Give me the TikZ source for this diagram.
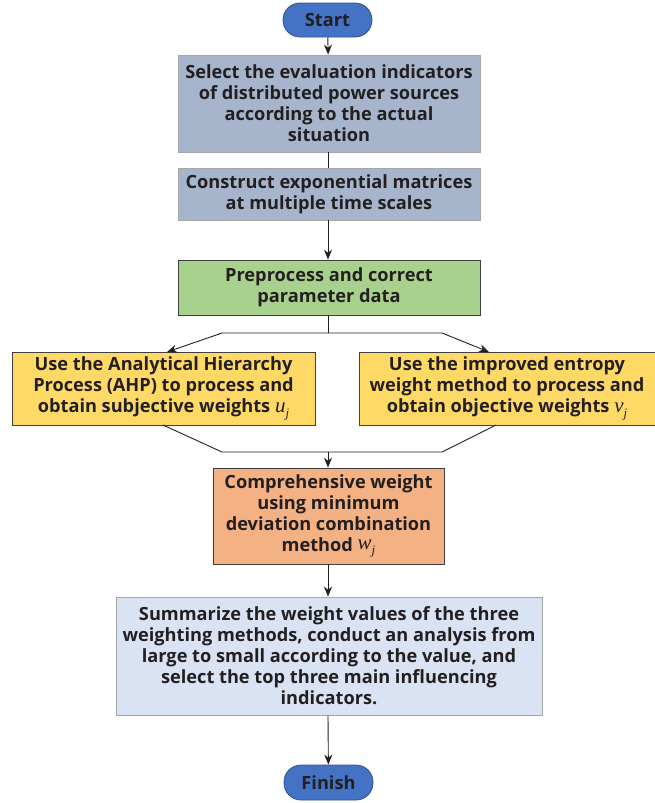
\documentclass[tikz,border=0pt]{standalone}
\usepackage{fontspec}
\setmainfont{Open Sans}
\newfontfamily\mathser{Liberation Serif}
\usetikzlibrary{arrows.meta}
\definecolor{txt}{HTML}{231F20}
\definecolor{cgray}{HTML}{A6B5CC}
\definecolor{cgreen}{HTML}{A9D18E}
\definecolor{cyel}{HTML}{FFD966}
\definecolor{corg}{HTML}{F4B183}
\definecolor{clblue}{HTML}{DAE3F3}
\definecolor{cterm}{HTML}{4472C4}
\definecolor{ctermb}{HTML}{2F528F}
\definecolor{cline}{HTML}{404040}
\newcommand{\mv}[2]{{\mathser\mdseries\itshape\fontsize{21}{21}\selectfont #1\raisebox{-5pt}{\fontsize{13}{13}\selectfont #2}}}
\begin{document}
\begin{tikzpicture}[x=1pt,y=-1pt,
  every node/.style={font=\bfseries\fontsize{18.2}{21}\selectfont, text=txt, align=center, inner sep=0pt},
  boxs/.style={draw=cline, line width=0.8pt, rectangle},
  conn/.style={draw=txt, line width=0.9pt},
  arr/.style={conn, -{Stealth[length=10pt,width=8pt]}}
]
\useasboundingbox (0,0) rectangle (655,803);
\node[draw=ctermb, fill=cterm, line width=0.8pt, rounded corners=17pt, minimum width=89pt, minimum height=34pt] (start) at (327.5,20) {Start};
\node[boxs, draw=gray!70, fill=cgray, minimum width=302pt, minimum height=97pt] (b1) at (329,103.5) {Select the evaluation indicators\\of distributed power sources\\according to the actual\\situation};
\node[boxs, draw=gray!70, fill=cgray, minimum width=302pt, minimum height=52pt] (b2) at (329,194) {Construct exponential matrices\\at multiple time scales};
\node[boxs, fill=cgreen, minimum width=302pt, minimum height=55pt] (b3) at (329,287.5) {Preprocess and correct\\parameter data};
\node[boxs, fill=cyel, minimum width=303pt, minimum height=73pt] (bl) at (163.5,388.5) {Use the Analytical Hierarchy\\Process (AHP) to process and\\obtain subjective weights \mv{u}{j}};
\node[boxs, fill=cyel, minimum width=296pt, minimum height=73pt] (br) at (507,388.5) {Use the improved entropy\\weight method to process and\\obtain objective weights \mv{v}{j}};
\node[boxs, fill=corg, minimum width=231pt, minimum height=96pt] (b4) at (328.5,516) {Comprehensive weight\\using minimum\\deviation combination\\method \raisebox{2pt}{\mv{w}{j}}};
\node[boxs, draw=gray!70, fill=clblue, minimum width=426pt, minimum height=118pt] (b5) at (329,656) {Summarize the weight values of the three\\weighting methods, conduct an analysis from\\large to small according to the value, and\\select the top three main influencing\\indicators.};
\node[draw=ctermb, fill=cterm, line width=0.8pt, rounded corners=17pt, minimum width=89pt, minimum height=35pt] (fin) at (328.5,782.5) {Finish};
\coordinate (split) at (328,333);
\coordinate (sl) at (222,333);
\coordinate (sr) at (442,333);
\coordinate (tl) at (167,352);
\coordinate (tr) at (489,352);
\coordinate (ml) at (163,425);
\coordinate (mr) at (496,425);
\coordinate (jl) at (222,452);
\coordinate (jr) at (442,452);
\coordinate (join) at (328,452);
\draw[arr] (start) -- (b1);
\draw[arr] (b2.south -| 328,0) -- (b3.north -| 328,0);
\draw[conn] (b3.south -| 328,0) -- (split);
\draw[conn] (b1.south -| 328,0) -- (b2.north -| 328,0);
\draw[arr] (split) -- (sl) -- (tl);
\draw[arr] (split) -- (sr) -- (tr);
\draw[conn] (ml) -- (jl) -- (jr) -- (mr);
\draw[arr] (join) -- (b4.north -| 328,0);
\draw[arr] (b4.south -| 328,0) -- (b5.north -| 328,0);
\draw[arr] (b5.south -| 328,0) -- (fin);
\end{tikzpicture}
\end{document}
